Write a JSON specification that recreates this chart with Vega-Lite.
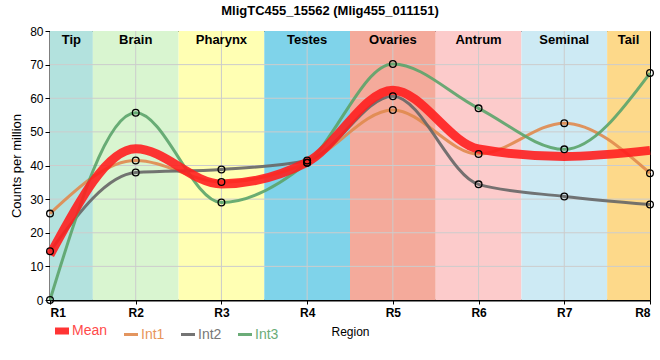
{
  "$schema": "https://vega.github.io/schema/vega-lite/v6.json",
  "width": 600,
  "height": 269,
  "autosize": {"type": "none"},
  "padding": {"left": 50, "top": 31, "right": 10, "bottom": 60},
  "title": {"text": "MligTC455_15562 (Mlig455_011151)", "fontSize": 13, "fontWeight": "bold", "font": "Liberation Sans", "anchor": "middle", "dx": -20, "offset": 7, "color": "#000"},
  "config": {
    "view": {"stroke": "#000", "strokeWidth": 1},
    "font": "Liberation Sans",
    "axis": {"labelFont": "Liberation Sans", "titleFont": "Liberation Sans", "titleFontWeight": "normal", "titleFontSize": 12, "labelFontSize": 12, "labelColor": "#000", "titleColor": "#000", "domainColor": "#000", "domainWidth": 2, "tickColor": "#000", "grid": false},
    "axisY": {"titleFontSize": 13}
  },
  "datasets": {
    "bands": [
      {"band": "Tip", "start": 1, "end": 1.5, "mid": 1.25},
      {"band": "Brain", "start": 1.5, "end": 2.5, "mid": 2},
      {"band": "Pharynx", "start": 2.5, "end": 3.5, "mid": 3},
      {"band": "Testes", "start": 3.5, "end": 4.5, "mid": 4},
      {"band": "Ovaries", "start": 4.5, "end": 5.5, "mid": 5},
      {"band": "Antrum", "start": 5.5, "end": 6.5, "mid": 6},
      {"band": "Seminal", "start": 6.5, "end": 7.5, "mid": 7},
      {"band": "Tail", "start": 7.5, "end": 8, "mid": 7.75}
    ],
    "vgrid": [{"x": 2}, {"x": 3}, {"x": 4}, {"x": 5}, {"x": 6}, {"x": 7}],
    "hgrid": [{"y": 10}, {"y": 20}, {"y": 30}, {"y": 40}, {"y": 50}, {"y": 60}, {"y": 70}],
    "series": [
      {"region": 1, "series": "Mean", "value": 13.4},
      {"region": 2, "series": "Mean", "value": 45.0},
      {"region": 3, "series": "Mean", "value": 34.5},
      {"region": 4, "series": "Mean", "value": 41.0},
      {"region": 5, "series": "Mean", "value": 62.4},
      {"region": 6, "series": "Mean", "value": 44.9},
      {"region": 7, "series": "Mean", "value": 42.7},
      {"region": 8, "series": "Mean", "value": 44.5},
      {"region": 1, "series": "Int1", "value": 25.7},
      {"region": 2, "series": "Int1", "value": 41.5},
      {"region": 3, "series": "Int1", "value": 35.1},
      {"region": 4, "series": "Int1", "value": 40.8},
      {"region": 5, "series": "Int1", "value": 56.5},
      {"region": 6, "series": "Int1", "value": 43.4},
      {"region": 7, "series": "Int1", "value": 52.6},
      {"region": 8, "series": "Int1", "value": 37.7},
      {"region": 1, "series": "Int2", "value": 14.5},
      {"region": 2, "series": "Int2", "value": 37.9},
      {"region": 3, "series": "Int2", "value": 38.8},
      {"region": 4, "series": "Int2", "value": 41.5},
      {"region": 5, "series": "Int2", "value": 60.6},
      {"region": 6, "series": "Int2", "value": 34.4},
      {"region": 7, "series": "Int2", "value": 30.8},
      {"region": 8, "series": "Int2", "value": 28.4},
      {"region": 1, "series": "Int3", "value": 0},
      {"region": 2, "series": "Int3", "value": 55.7},
      {"region": 3, "series": "Int3", "value": 29.0},
      {"region": 4, "series": "Int3", "value": 40.8},
      {"region": 5, "series": "Int3", "value": 70.2},
      {"region": 6, "series": "Int3", "value": 57.0},
      {"region": 7, "series": "Int3", "value": 44.8},
      {"region": 8, "series": "Int3", "value": 67.5}
    ]
  },
  "layer": [
    {
      "data": {"name": "bands"},
      "mark": {"type": "rect"},
      "encoding": {
        "x": {"field": "start", "type": "quantitative", "title": "Region", "scale": {"domain": [1, 8], "nice": false, "zero": false},
          "axis": {"values": [1, 2, 3, 4, 5, 6, 7, 8], "labelExpr": "'R' + datum.value", "labelFontWeight": "bold", "tickSize": 4, "labelPadding": 3, "titlePadding": 8}},
        "x2": {"field": "end"},
        "fill": {"field": "band", "type": "nominal", "legend": null,
          "scale": {"domain": ["Tip", "Brain", "Pharynx", "Testes", "Ovaries", "Antrum", "Seminal", "Tail"],
                    "range": ["#b3e2de", "#d9f5d0", "#ffffb3", "#7fd3ea", "#f4aa9b", "#fccbcb", "#cdeaf4", "#fdd98a"]}}
      }
    },
    {
      "data": {"name": "vgrid"},
      "mark": {"type": "rule", "color": "#cccccc", "strokeWidth": 1},
      "encoding": {"x": {"field": "x", "type": "quantitative", "title": "Region",
          "axis": {"values": [1, 2, 3, 4, 5, 6, 7, 8], "labelExpr": "'R' + datum.value", "labelFontWeight": "bold", "tickSize": 4, "labelPadding": 3, "titlePadding": 8}}}
    },
    {
      "data": {"name": "hgrid"},
      "mark": {"type": "rule", "color": "#cccccc", "strokeWidth": 1},
      "encoding": {"y": {"field": "y", "type": "quantitative", "title": "Counts per million",
          "scale": {"domain": [0, 80], "nice": false},
          "axis": {"values": [0, 10, 20, 30, 40, 50, 60, 70, 80], "tickSize": 5, "labelPadding": 2, "titlePadding": 6}}}
    },
    {
      "data": {"name": "bands"},
      "mark": {"type": "text", "fontWeight": "bold", "fontSize": 13, "color": "#000", "baseline": "middle", "dy": 9},
      "encoding": {
        "x": {"field": "mid", "type": "quantitative", "title": "Region",
          "axis": {"values": [1, 2, 3, 4, 5, 6, 7, 8], "labelExpr": "'R' + datum.value", "labelFontWeight": "bold", "tickSize": 4, "labelPadding": 3, "titlePadding": 8}},
        "y": {"datum": 80, "type": "quantitative", "title": "Counts per million",
          "axis": {"values": [0, 10, 20, 30, 40, 50, 60, 70, 80], "tickSize": 5, "labelPadding": 2, "titlePadding": 6}},
        "text": {"field": "band"}
      }
    },
    {
      "data": {"name": "series"},
      "transform": [{"filter": "datum.series !== 'Mean'"}],
      "mark": {"type": "line", "interpolate": "monotone", "strokeWidth": 3, "opacity": 0.9},
      "encoding": {
        "x": {"field": "region", "type": "quantitative", "title": "Region",
          "axis": {"values": [1, 2, 3, 4, 5, 6, 7, 8], "labelExpr": "'R' + datum.value", "labelFontWeight": "bold", "tickSize": 4, "labelPadding": 3, "titlePadding": 8}},
        "y": {"field": "value", "type": "quantitative", "title": "Counts per million",
          "axis": {"values": [0, 10, 20, 30, 40, 50, 60, 70, 80], "tickSize": 5, "labelPadding": 2, "titlePadding": 6}},
        "color": {"field": "series", "type": "nominal",
          "scale": {"domain": ["Mean", "Int1", "Int2", "Int3"], "range": ["#ff1f1f", "#e08a4e", "#666666", "#5ba46a"]},
          "legend": {"title": null, "orient": "none", "legendX": 5, "legendY": 293, "direction": "horizontal",
            "symbolType": "stroke", "symbolSize": 196, "symbolStrokeWidth": 3, "labelFontSize": 14, "labelFont": "Liberation Sans",
            "columnPadding": 10, "symbolOffset": 0, "labelOffset": 3,
            "symbolOpacity": 0.9,
            "encode": {
              "labels": {"update": {"fill": {"signal": "datum.value === 'Mean' ? '#ff4a4a' : datum.value === 'Int1' ? '#e8955a' : datum.value === 'Int2' ? '#777777' : '#6aac78'"}}},
              "symbols": {"update": {"strokeWidth": {"signal": "datum.value === 'Mean' ? 7 : 3"}, "strokeCap": {"value": "butt"}}}}}}
      }
    },
    {
      "data": {"name": "series"},
      "transform": [{"filter": "datum.series === 'Mean'"}],
      "mark": {"type": "line", "interpolate": "monotone", "strokeWidth": 9, "opacity": 0.9},
      "encoding": {
        "x": {"field": "region", "type": "quantitative", "title": "Region",
          "axis": {"values": [1, 2, 3, 4, 5, 6, 7, 8], "labelExpr": "'R' + datum.value", "labelFontWeight": "bold", "tickSize": 4, "labelPadding": 3, "titlePadding": 8}},
        "y": {"field": "value", "type": "quantitative", "title": "Counts per million",
          "axis": {"values": [0, 10, 20, 30, 40, 50, 60, 70, 80], "tickSize": 5, "labelPadding": 2, "titlePadding": 6}},
        "color": {"field": "series", "type": "nominal"}
      }
    },
    {
      "data": {"name": "series"},
      "transform": [{"filter": "datum.series !== 'Mean'"}],
      "mark": {"type": "point", "shape": "circle", "filled": false, "color": "#000", "size": 45, "strokeWidth": 1.3, "opacity": 1},
      "encoding": {
        "x": {"field": "region", "type": "quantitative", "title": "Region",
          "axis": {"values": [1, 2, 3, 4, 5, 6, 7, 8], "labelExpr": "'R' + datum.value", "labelFontWeight": "bold", "tickSize": 4, "labelPadding": 3, "titlePadding": 8}},
        "y": {"field": "value", "type": "quantitative", "title": "Counts per million",
          "axis": {"values": [0, 10, 20, 30, 40, 50, 60, 70, 80], "tickSize": 5, "labelPadding": 2, "titlePadding": 6}}
      }
    }
  ]
}
